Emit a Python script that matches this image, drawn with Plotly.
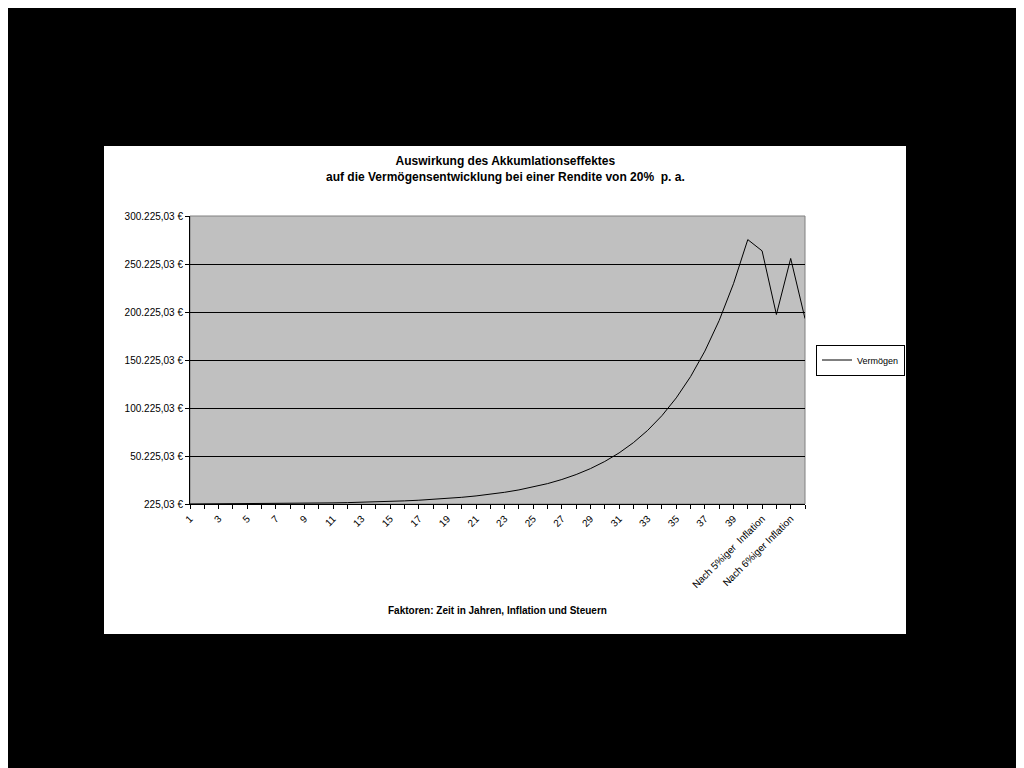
import plotly.graph_objects as go

categories = [str(i) for i in range(1, 41)] + ["Nach 5%iger  Inflation", "Nach 5%iger Inflation und Steuern",
                                                 "Nach 6%iger Inflation", "Nach 6%iger Inflation und Steuern"]
shown_labels = [str(i) if i % 2 == 1 else "" for i in range(1, 41)] + ["Nach 5%iger  Inflation", "", "Nach 6%iger Inflation", ""]
vermoegen = [225, 270, 324, 389, 467, 560, 672, 806, 968, 1161, 1393, 1672, 2006, 2408, 2889, 3467,
             4160, 4993, 5991, 7189, 8627, 10353, 12423, 14908, 17889, 21467, 25760, 30913, 37095,
             44514, 53417, 64100, 76920, 92304, 110765, 132918, 159501, 191402, 229682, 275618,
             263900, 197600, 256000, 193400]
y_ticks = [225.03 + 50000 * i for i in range(7)]
y_labels = ["225,03 €", "50.225,03 €", "100.225,03 €", "150.225,03 €", "200.225,03 €", "250.225,03 €", "300.225,03 €"]

idx = list(range(len(categories)))
F = "Liberation Sans, Arial, sans-serif"
fig = go.Figure(go.Scatter(x=idx, y=vermoegen, mode="lines", name="Vermögen",
                           line=dict(color="black", width=1)))

OFF = 8
FW, FH = 1024 - OFF, 768 - OFF
L, R, T, B = 190 - OFF, 805 - OFF, 216 - OFF, 504 - OFF
W, H = R - L, B - T
def px(x): return (x - OFF - L) / W
def py(y): return (B - (y - OFF)) / H

fig.update_layout(
    width=FW, height=FH, autosize=False,
    margin=dict(l=L, r=FW - R, t=T, b=FH - B),
    paper_bgcolor="black", plot_bgcolor="#c0c0c0",
    font=dict(family=F, size=10, color="black"),
    showlegend=True,
    legend=dict(x=px(816), y=py(360), xanchor="left", yanchor="middle",
                bgcolor="white", bordercolor="black", borderwidth=1,
                font=dict(size=9), itemwidth=30, tracegroupgap=0),
    shapes=[dict(type="rect", xref="paper", yref="paper", x0=px(104), x1=px(906),
                 y0=py(634), y1=py(146), fillcolor="white", line=dict(width=0), layer="below"),
            dict(type="rect", xref="paper", yref="paper", x0=0, x1=1, y0=0, y1=1,
                 fillcolor="#c0c0c0", line=dict(color="#808080", width=1), layer="below")],
    annotations=[
        dict(text="<b>Auswirkung des Akkumlationseffektes<br>auf die Vermögensentwicklung bei einer Rendite von 20%  p. a.</b>",
             xref="paper", yref="paper", x=px(505), y=py(152), showarrow=False, font=dict(size=12)),
        dict(text="<b>Faktoren: Zeit in Jahren, Inflation und Steuern</b>",
             xref="paper", yref="paper", x=px(497), y=py(618), showarrow=False, font=dict(size=10)),
    ],
)
fig.update_xaxes(range=[0, len(categories) - 1], tickmode="array", tickvals=idx, ticktext=shown_labels,
                 tickangle=-45, ticks="outside", ticklen=4, tickcolor="black", showgrid=False,
                 showline=True, linecolor="black", zeroline=False, tickfont=dict(size=10))
fig.update_yaxes(range=[225.03, 300225.03], tickmode="array", tickvals=y_ticks, ticktext=y_labels,
                 ticks="outside", ticklen=4, tickcolor="black", showgrid=True, gridcolor="black",
                 gridwidth=1, showline=True, linecolor="black", zeroline=False, mirror=False,
                 tickfont=dict(size=10))
fig.write_html("out.html")
